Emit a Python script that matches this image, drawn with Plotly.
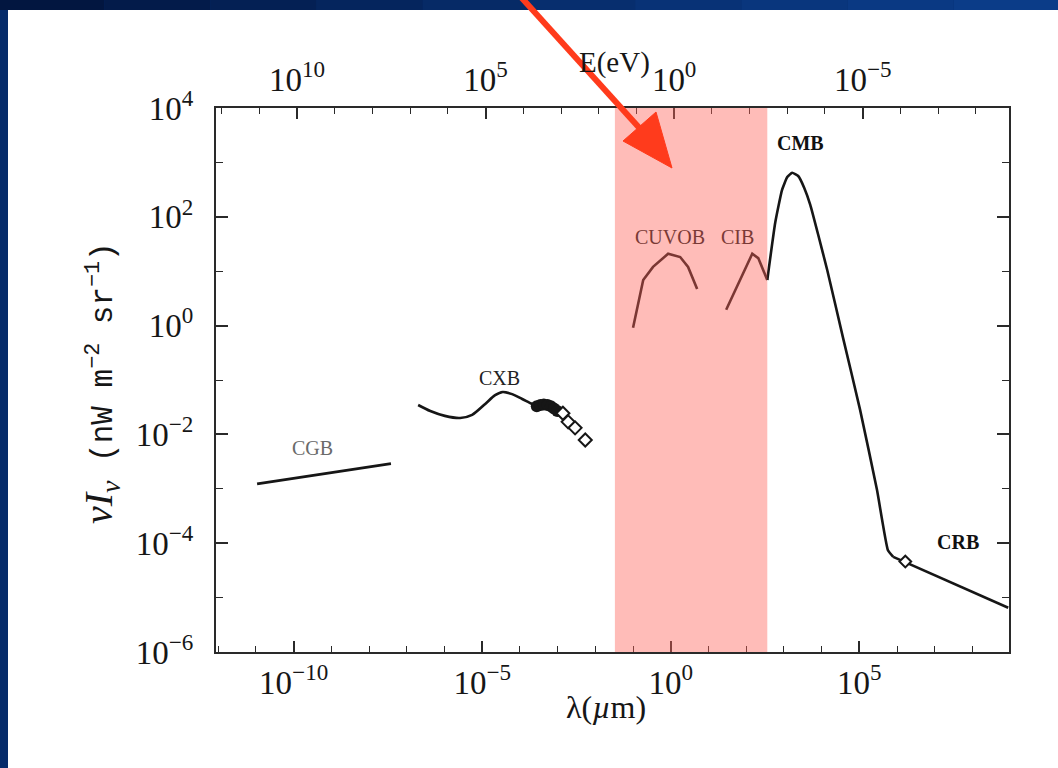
import plotly.graph_objects as go

# ---------------- data ----------------
cgb_lam = [1.07e-11, 3.8e-8]
cgb_val = [1.23e-3, 2.9e-3]

cxb_lam = [2.0e-7, 4.2e-7, 1.02e-6, 2.6e-6, 5.4e-6, 1.2e-5, 2.2e-5, 3.5e-5, 6.2e-5, 1.15e-4, 2.1e-4, 3.4e-4]
cxb_val = [0.0347, 0.0269, 0.0219, 0.0200, 0.0229, 0.0363, 0.0525, 0.0603, 0.0550, 0.0447, 0.0363, 0.0316]

cxb_pts_lam = [2.8e-4, 3.5e-4, 4.3e-4, 5.4e-4, 6.6e-4, 8.0e-4, 9.8e-4]
cxb_pts_val = [0.033, 0.0347, 0.0355, 0.0347, 0.033, 0.030, 0.027]

cxb_open_lam = [1.38e-3, 1.9e-3, 2.9e-3, 5.4e-3]
cxb_open_val = [0.0245, 0.017, 0.0132, 0.0079]

cuvob_lam = [0.100, 0.186, 0.339, 0.851, 1.78, 2.88, 5.01]
cuvob_val = [0.91, 6.9, 12.0, 20.9, 18.2, 12.0, 4.7]

cib_lam = [29.5, 145, 209, 363]
cib_val = [1.95, 20.9, 17.4, 6.9]

cmb_lam = [363, 589, 891, 1230, 1660, 2400, 3470, 5010, 8130, 1.41e4, 3.72e4, 1.05e5, 2.95e5, 5.75e5, 7.94e5]
cmb_val = [6.9, 77.6, 309, 537, 646, 562, 339, 166, 46.8, 10.5, 0.589, 0.0282, 9.5e-4, 7.4e-5, 5.6e-5]

crb_lam = [7.94e5, 8.9e8]
crb_val = [5.6e-5, 6.5e-6]
crb_pts_lam = [1.66e6]
crb_pts_val = [4.6e-5]

# optical / IR band highlighted in the picture (lambda, micron)
band_lam = [0.033, 363]

# labels: (text, log10 lambda, log10 value)
label_text = ["CGB", "CXB", "CUVOB", "CIB", "CMB", "CRB"]
label_loglam = [-9.49, -4.53, -0.02, 1.76, 3.43, 7.62]
label_logval = [-2.25, -0.96, 1.63, 1.63, 3.36, -3.98]
label_color = ["#6a6a6a", "#222222", "#7a3a36", "#7a3a36", "#111111", "#111111"]
label_bold = [False, False, False, False, True, True]

# tick labels
lam_ticks = [1e-10, 1e-5, 1e0, 1e5]
lam_ticktext = ["10<sup>−10</sup>", "10<sup>−5</sup>", "10<sup>0</sup>", "10<sup>5</sup>"]
lam_minor = [10.0 ** k for k in range(-12, 9) if k % 5 != 0]

E_ticks = [1e10, 1e5, 1e0, 1e-5]
E_ticktext = ["10<sup>10</sup>", "10<sup>5</sup>", "10<sup>0</sup>", "10<sup>−5</sup>"]
E_minor = [10.0 ** k for k in range(-8, 13) if k % 5 != 0]

y_ticks = [1e-6, 1e-4, 1e-2, 1e0, 1e2, 1e4]
y_ticktext = ["10<sup>−6</sup>", "10<sup>−4</sup>", "10<sup>−2</sup>", "10<sup>0</sup>", "10<sup>2</sup>", "10<sup>4</sup>"]
y_minor = [1e-5, 1e-3, 1e-1, 1e1, 1e3]

# ---------------- layout geometry ----------------
W, H = 1058, 768
ML, MR, MT, MB = 216, 49, 108, 116
SERIF = "Liberation Serif"
MONO = "Liberation Mono"
INK = "#161616"


def px(xp):
    return (xp - ML) / (W - ML - MR)


def py(yp):
    return (H - MB - yp) / (H - MT - MB)


fig = go.Figure()

line = dict(color=INK, width=2.6)
fig.add_trace(go.Scatter(x=cgb_lam, y=cgb_val, mode="lines", line=line, hoverinfo="skip"))
fig.add_trace(go.Scatter(x=cxb_lam, y=cxb_val, mode="lines",
                         line=dict(color=INK, width=2.6, shape="spline", smoothing=0.8), hoverinfo="skip"))
fig.add_trace(go.Scatter(x=cxb_pts_lam, y=cxb_pts_val, mode="markers",
                         marker=dict(symbol="circle", size=12, color=INK), hoverinfo="skip"))
fig.add_trace(go.Scatter(x=cxb_open_lam, y=cxb_open_val, mode="markers",
                         marker=dict(symbol="diamond", size=10, color="white", line=dict(color=INK, width=2)),
                         hoverinfo="skip"))
fig.add_trace(go.Scatter(x=cuvob_lam, y=cuvob_val, mode="lines", line=line, hoverinfo="skip"))
fig.add_trace(go.Scatter(x=cib_lam, y=cib_val, mode="lines", line=line, hoverinfo="skip"))
fig.add_trace(go.Scatter(x=cmb_lam, y=cmb_val, mode="lines",
                         line=dict(color=INK, width=2.6, shape="spline", smoothing=0.4), hoverinfo="skip"))
fig.add_trace(go.Scatter(x=crb_lam, y=crb_val, mode="lines", line=line, hoverinfo="skip"))
fig.add_trace(go.Scatter(x=crb_pts_lam, y=crb_pts_val, mode="markers",
                         marker=dict(symbol="diamond", size=9, color="white", line=dict(color=INK, width=2)),
                         hoverinfo="skip"))
# carrier for the top energy axis
fig.add_trace(go.Scatter(x=E_ticks, y=[1, 1, 1, 1], xaxis="x2", mode="markers",
                         marker=dict(opacity=0), hoverinfo="skip"))

shapes = []
# white slide panel
shapes.append(dict(type="rect", xref="paper", yref="paper", x0=px(8), x1=px(W + 2), y0=py(H + 2), y1=py(10),
                   fillcolor="white", line=dict(width=0), layer="below"))
# gradient strip on top
top_cols = ["#021640", "#031b4a", "#042054", "#05255d", "#062a66", "#072e6e", "#083276", "#09367d", "#0a3983", "#0b3c88"]
n = len(top_cols)
for i, c in enumerate(top_cols):
    shapes.append(dict(type="rect", xref="paper", yref="paper",
                       x0=px(-2 + i * (W + 4) / n), x1=px(-2 + (i + 1) * (W + 4) / n),
                       y0=py(10), y1=py(-2), fillcolor=c, line=dict(width=0), layer="below"))
# highlighted band (tints what is under it)
shapes.append(dict(type="rect", xref="x", yref="paper", x0=band_lam[0], x1=band_lam[1], y0=0, y1=1,
                   fillcolor="rgba(255,100,90,0.43)", line=dict(width=0), layer="above"))
# red arrow
ARROW = "#ff3b1c"
shapes.append(dict(type="line", xref="paper", yref="paper", x0=px(520), y0=py(-4), x1=px(643), y1=py(132),
                   line=dict(color=ARROW, width=6), layer="above"))
shapes.append(dict(type="path", xref="paper", yref="paper",
                   path=f"M {px(672)} {py(168)} L {px(623)} {py(141)} L {px(656)} {py(112)} Z",
                   fillcolor=ARROW, line=dict(color=ARROW, width=1), layer="above"))

annotations = []
for t, lx, ly, c, b in zip(label_text, label_loglam, label_logval, label_color, label_bold):
    annotations.append(dict(text=f"<b>{t}</b>" if b else t, x=lx, y=ly, xref="x", yref="y", showarrow=False,
                            font=dict(family=SERIF, size=20, color=c)))

# axis titles placed as free text
free = dict(xref="paper", yref="paper", showarrow=False, xanchor="center", yanchor="middle")
annotations.append(dict(text="E(eV)", x=px(614), y=py(62), font=dict(family=SERIF, size=29, color=INK), **free))
annotations.append(dict(text="λ(<i>µ</i>m)", x=px(606), y=py(707), font=dict(family=SERIF, size=32, color=INK), **free))
annotations.append(dict(
    text='<span style="font-family:Liberation Serif;font-size:40px"><i>νI</i><sub><i>ν</i></sub></span>'
         ' (nW m<sup>−2</sup> sr<sup>−1</sup>)',
    x=px(101), y=py(383), textangle=-90, font=dict(family=MONO, size=31, color=INK), **free))

tickfont = dict(family=SERIF, size=33, color=INK)
axis_common = dict(type="log", showgrid=False, zeroline=False, showline=True, linecolor="#2a2a2a", linewidth=2,
                   ticks="inside", tickcolor="#2a2a2a", tickwidth=1.5, tickfont=tickfont)

fig.update_layout(
    width=W, height=H,
    margin=dict(l=ML, r=MR, t=MT, b=MB, pad=0),
    paper_bgcolor="#062b6a", plot_bgcolor="white",
    showlegend=False,
    shapes=shapes, annotations=annotations,
    xaxis=dict(**axis_common, range=[-12.06, 8.97], tickmode="array", tickvals=lam_ticks, ticktext=lam_ticktext,
               ticklen=11, ticklabelstandoff=0,
               minor=dict(tickmode="array", tickvals=lam_minor, ticks="inside", ticklen=6, tickwidth=1.3,
                          tickcolor="#2a2a2a")),
    xaxis2=dict(**axis_common, overlaying="x", side="top", range=[12.15, -8.88], tickmode="array",
                tickvals=E_ticks, ticktext=E_ticktext, ticklen=11, ticklabelstandoff=2,
                minor=dict(tickmode="array", tickvals=E_minor, ticks="inside", ticklen=6, tickwidth=1.3,
                           tickcolor="#2a2a2a")),
    yaxis=dict(**axis_common, range=[-6, 4], tickmode="array", tickvals=y_ticks, ticktext=y_ticktext,
               ticklen=12, mirror="ticks", ticklabelstandoff=14,
               minor=dict(tickmode="array", tickvals=y_minor, ticks="inside", ticklen=7, tickwidth=1.3,
                          tickcolor="#2a2a2a")),
)

fig.write_html("out.html")
